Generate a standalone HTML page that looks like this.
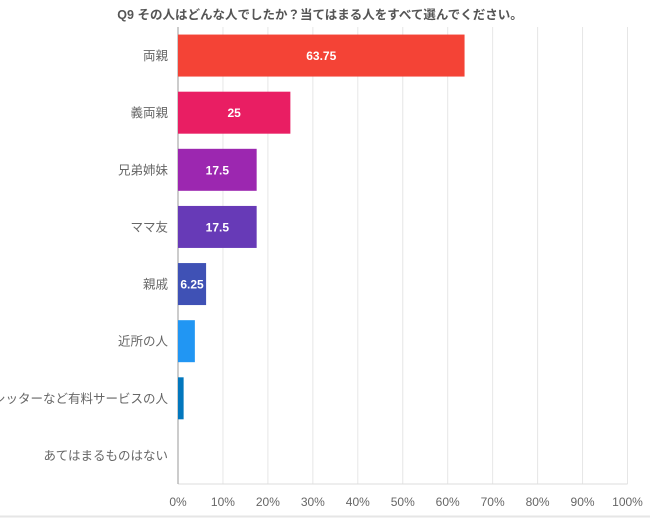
<!DOCTYPE html>
<html><head><meta charset="utf-8"><style>
body{margin:0;background:#fff;width:650px;height:518px;overflow:hidden;font-family:"Liberation Sans","Noto Sans CJK JP",sans-serif}
</style></head><body>
<svg id="c" width="650" height="518">
<text x="320" y="19" text-anchor="middle" font-size="12.5" font-weight="bold" fill="#555">Q9 その人はどんな人でしたか？当てはまる人をすべて選んでください。</text>
<line x1="0" y1="516.5" x2="650" y2="516.5" stroke="#e6e6e6" stroke-width="2"/>
</svg>
<script>
const categories=["両親","義両親","兄弟姉妹","ママ友","親戚","近所の人","シッターなど有料サービスの人","あてはまるものはない"];
const values=[63.75,25,17.5,17.5,6.25,3.75,1.25,0];
const labels=["63.75","25","17.5","17.5","6.25","","",""];
const colors=["#f44336","#e91e63","#9c27b0","#673ab7","#3f51b5","#2196f3","#0277bd","#00897b"];
const ticks=[0,10,20,30,40,50,60,70,80,90,100];
const svg=document.getElementById('c');const NS='http://www.w3.org/2000/svg';
const X0=178,X1=627.5,Y0=27,Y1=484;
const x=v=>X0+(X1-X0)*v/100;
const band=(Y1-Y0)/categories.length;
const y=i=>Y0+band*i;
function mk(t,a){const e=document.createElementNS(NS,t);for(const k in a)e.setAttribute(k,a[k]);svg.appendChild(e);return e;}
ticks.forEach(t=>{
 const g=mk('line',{x1:x(t),x2:x(t),y1:Y0,y2:Y1,stroke:'#e6e6e6','stroke-width':1});
 
 
 const l=mk('text',{x:x(t),y:506,'text-anchor':'middle','font-size':12,fill:'#666'});
 l.textContent=t+'%';
 
 
});
const base=mk('line',{x1:X0,x2:X1,y1:Y1,y2:Y1,stroke:'#ddd','stroke-width':1});


const ya=mk('line',{x1:X0,x2:X0,y1:Y0,y2:Y1,stroke:'#999','stroke-width':1});


categories.forEach((c,i)=>{
 const cy=y(i)+band/2;
 const t=mk('text',{x:168,y:cy+4.5,'text-anchor':'end','font-size':12.5,fill:'#666'});
 t.textContent=c;
 
 
 const r=mk('rect',{x:X0,y:cy-21,width:x(values[i])-X0,height:42,fill:colors[i]});
 
 
 if(labels[i]){
  const v=mk('text',{x:(X0+x(values[i]))/2,y:cy+4.5,'text-anchor':'middle','font-size':12,'font-weight':'bold',fill:'#fff'});
  v.textContent=labels[i];
  
  
 }
});
</script>
</body></html>
